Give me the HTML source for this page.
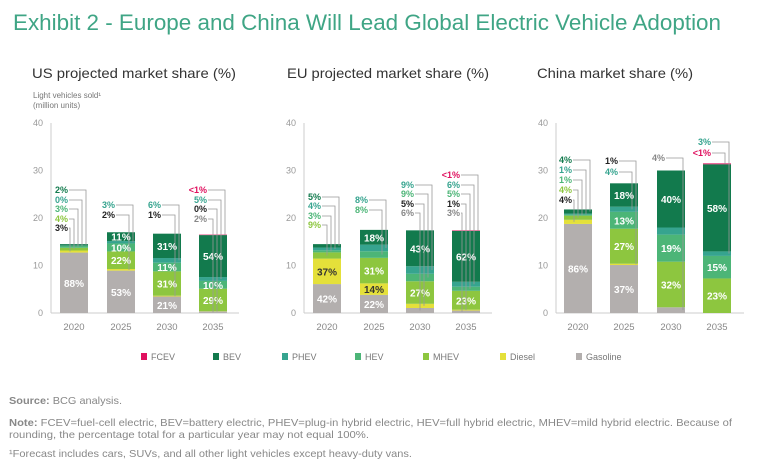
<!DOCTYPE html>
<html><head><meta charset="utf-8"><style>
body{margin:0;background:#fff}
svg{display:block;font-family:"Liberation Sans",sans-serif}
</style></head><body>
<svg id="s" width="768" height="471" viewBox="0 0 768 471" xmlns="http://www.w3.org/2000/svg">
<text x="13" y="30" font-size="22" fill="#3fa585" textLength="708" lengthAdjust="spacingAndGlyphs">Exhibit 2 - Europe and China Will Lead Global Electric Vehicle Adoption</text>
<text x="32" y="78" font-size="14" fill="#333" textLength="204" lengthAdjust="spacingAndGlyphs">US projected market share (%)</text>
<text x="287" y="78" font-size="14" fill="#333" textLength="202" lengthAdjust="spacingAndGlyphs">EU projected market share (%)</text>
<text x="537" y="78" font-size="14" fill="#333" textLength="156" lengthAdjust="spacingAndGlyphs">China market share (%)</text>
<text x="33" y="98" font-size="8" fill="#777">Light vehicles sold¹</text>
<text x="33" y="108" font-size="8" fill="#777">(million units)</text>
<g id="g"></g>
<g font-size="9" fill="#777">
<rect x="141" y="353" width="6" height="7" fill="#e0115f"/><text x="151" y="360">FCEV</text>
<rect x="213" y="353" width="6" height="7" fill="#127a4d"/><text x="223" y="360">BEV</text>
<rect x="282" y="353" width="6" height="7" fill="#36a48f"/><text x="292" y="360">PHEV</text>
<rect x="355" y="353" width="6" height="7" fill="#4cb577"/><text x="365" y="360">HEV</text>
<rect x="423" y="353" width="6" height="7" fill="#8dc63f"/><text x="433" y="360">MHEV</text>
<rect x="500" y="353" width="6" height="7" fill="#e4e03a"/><text x="510" y="360">Diesel</text>
<rect x="576" y="353" width="6" height="7" fill="#b3afae"/><text x="586" y="360">Gasoline</text>
</g>
<g font-size="10.5" fill="#888">
<text x="9" y="404" textLength="113" lengthAdjust="spacingAndGlyphs"><tspan font-weight="bold">Source:</tspan> BCG analysis.</text>
<text x="9" y="426" textLength="723" lengthAdjust="spacingAndGlyphs"><tspan font-weight="bold">Note:</tspan> FCEV=fuel-cell electric, BEV=battery electric, PHEV=plug-in hybrid electric, HEV=full hybrid electric, MHEV=mild hybrid electric. Because of</text>
<text x="9" y="438" textLength="360" lengthAdjust="spacingAndGlyphs">rounding, the percentage total for a particular year may not equal 100%.</text>
<text x="9" y="457" textLength="403" lengthAdjust="spacingAndGlyphs">¹Forecast includes cars, SUVs, and all other light vehicles except heavy-duty vans.</text>
</g>
</svg>
<script>
const C={G:"#b3afae",D:"#e4e03a",M:"#8dc63f",H:"#4cb577",P:"#36a48f",B:"#127a4d",F:"#e0115f"};
const LC={G:"#888",D:"#222",M:"#8dc63f",H:"#4cb577",P:"#36a48f",B:"#127a4d",F:"#e0115f"};
const order=["G","D","M","H","P","B","F"];
const charts=[
 {ax:51,cs:[74,121,167,213],bars:[
  {t:14.5,v:{G:88,D:3,M:4,H:3,P:0.3,B:2},lab:[["B","2%",193],["P","0%",203],["H","3%",212],["M","4%",222],["D","3%",231]]},
  {t:17,v:{G:53,D:2,M:22,H:10,P:3,B:11},lab:[["P","3%",208],["D","2%",218]]},
  {t:16.7,v:{G:21,D:1,M:31,H:11,P:6,B:31},lab:[["P","6%",208],["D","1%",218]]},
  {t:16.5,v:{G:2,D:0.3,M:29,H:10,P:5,B:54,F:0.6},lab:[["F","<1%",193],["P","5%",203],["D","0%",212],["G","2%",222]]}]},
 {ax:304,cs:[327,374,420,466],bars:[
  {t:14.5,v:{G:42,D:37,M:9,H:3,P:4,B:5},lab:[["B","5%",200],["P","4%",209],["H","3%",219],["M","9%",228]]},
  {t:17.5,v:{G:22,D:14,M:31,H:8,P:8,B:18},lab:[["P","8%",203],["H","8%",213]]},
  {t:17.4,v:{G:6,D:5,M:27,H:9,P:9,B:43},lab:[["P","9%",188],["H","9%",197],["D","5%",207],["G","6%",216]]},
  {t:17.4,v:{G:3,D:1,M:23,H:5,P:6,B:62,F:0.6},lab:[["F","<1%",178],["P","6%",188],["H","5%",197],["D","1%",207],["G","3%",216]]}]},
 {ax:556,cs:[578,624,671,717],bars:[
  {t:21.8,v:{G:86,D:4,M:4,H:1,P:1,B:4},lab:[["B","4%",163],["P","1%",173],["H","1%",183],["M","4%",193],["D","4%",203]]},
  {t:27.3,v:{G:37,D:1,M:27,H:13,P:4,B:18},lab:[["D","1%",164],["P","4%",175]]},
  {t:30,v:{G:4,M:32,H:19,P:5,B:40},lab:[["G","4%",161]]},
  {t:31.5,v:{M:23,H:15,P:3,B:58,F:0.6},lab:[["P","3%",145],["F","<1%",156]]}]}];
const Y0=313,K=4.75,W=28;let h="";
const years=["2020","2025","2030","2035"];
charts.forEach(ch=>{
 h+=`<line x1="${ch.ax}" y1="123" x2="${ch.ax}" y2="${Y0}" stroke="#ccc"/>`;
 h+=`<line x1="${ch.ax}" y1="${Y0}" x2="${ch.ax+188}" y2="${Y0}" stroke="#ccc"/>`;
 [0,10,20,30,40].forEach(v=>{h+=`<text x="${ch.ax-8}" y="${Y0-v*K+3}" font-size="9" fill="#999" text-anchor="end">${v}</text>`});
 ch.bars.forEach((b,i)=>{
  const cx=ch.cs[i],x=cx-W/2;
  h+=`<text x="${cx}" y="330" font-size="9.5" fill="#888" text-anchor="middle">${years[i]}</text>`;
  let sum=0;order.forEach(k=>sum+=(b.v[k]||0));
  let y=Y0;const mid={};
  order.forEach(k=>{const v=b.v[k];if(v==null)return;const hh=v/sum*b.t*K;
   h+=`<rect x="${x}" y="${y-hh}" width="${W}" height="${hh}" fill="${C[k]}"/>`;
   mid[k]=y-hh/2;
   if(v>=9&&!b.lab.some(l=>l[0]==k)){h+=`<text x="${cx}" y="${y-hh/2+4}" font-size="10" font-weight="bold" fill="${k=='D'?'#333':'#fff'}" text-anchor="middle">${v}%</text>`}
   y-=hh;});
  b.lab.forEach((l,j)=>{
   const lx=x+W-2-j*4;const tx=cx-6;
   h+=`<polyline points="${tx+1},${l[2]-3} ${lx},${l[2]-3} ${lx},${mid[l[0]]}" fill="none" stroke="#999" stroke-width="0.8"/>`;
   h+=`<text x="${tx}" y="${l[2]}" font-size="9" font-weight="bold" fill="${LC[l[0]]}" text-anchor="end">${l[1].replace('<','&lt;')}</text>`;
  });
 });
});
document.getElementById("g").innerHTML=h;
</script>
</body></html>
